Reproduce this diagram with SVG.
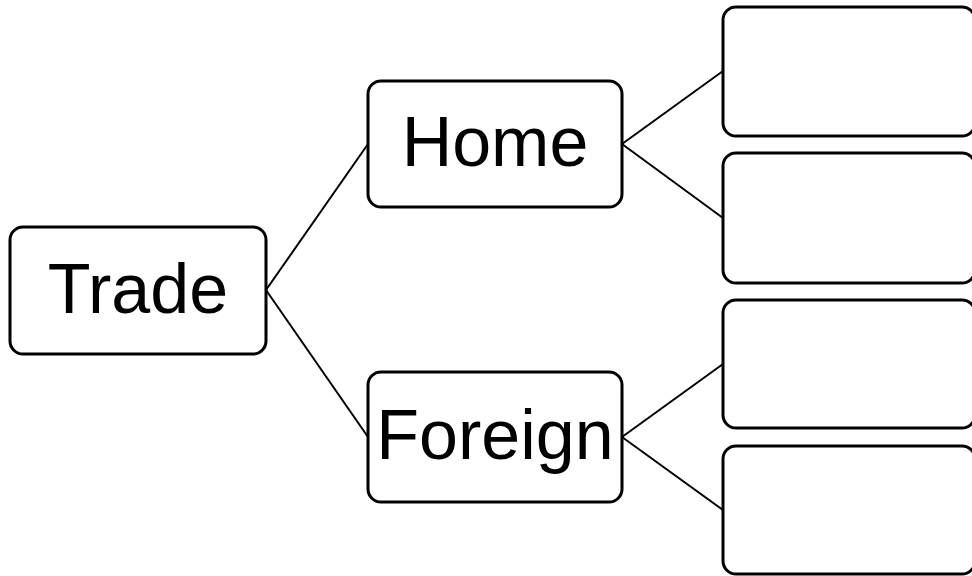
<svg xmlns="http://www.w3.org/2000/svg" width="972" height="576" viewBox="0 0 972 576">
<style>
.box{fill:#fff;stroke:#000;stroke-width:3}
.lbl{font-family:"Liberation Sans","Open Sans",sans-serif;font-size:70px;fill:#000;text-anchor:middle}
.conn line{stroke:#000;stroke-width:2}
</style>
<rect width="972" height="576" fill="#fff"/>
<g id="connectors" class="conn">
<line x1="266" y1="290" x2="368" y2="144"/>
<line x1="266" y1="290" x2="368" y2="437"/>
<line x1="622" y1="144" x2="723" y2="71"/>
<line x1="622" y1="144" x2="723" y2="218"/>
<line x1="622" y1="437" x2="723" y2="364"/>
<line x1="622" y1="437" x2="723" y2="510"/>
</g>
<g id="trade"><rect class="box" x="10" y="227" width="256" height="127" rx="13"/><text class="lbl" x="138" y="313">Trade</text></g>
<g id="home"><rect class="box" x="368" y="81" width="254" height="126" rx="13"/><text class="lbl" x="495" y="166">Home</text></g>
<g id="foreign"><rect class="box" x="368" y="372" width="254" height="130" rx="13"/><text class="lbl" x="495" y="459">Foreign</text></g>
<g id="box1"><rect class="box" x="723" y="7" width="252" height="129" rx="13"/></g>
<g id="box2"><rect class="box" x="723" y="153" width="252" height="130" rx="13"/></g>
<g id="box3"><rect class="box" x="723" y="300" width="252" height="128" rx="13"/></g>
<g id="box4"><rect class="box" x="723" y="446" width="252" height="128" rx="13"/></g>
</svg>
